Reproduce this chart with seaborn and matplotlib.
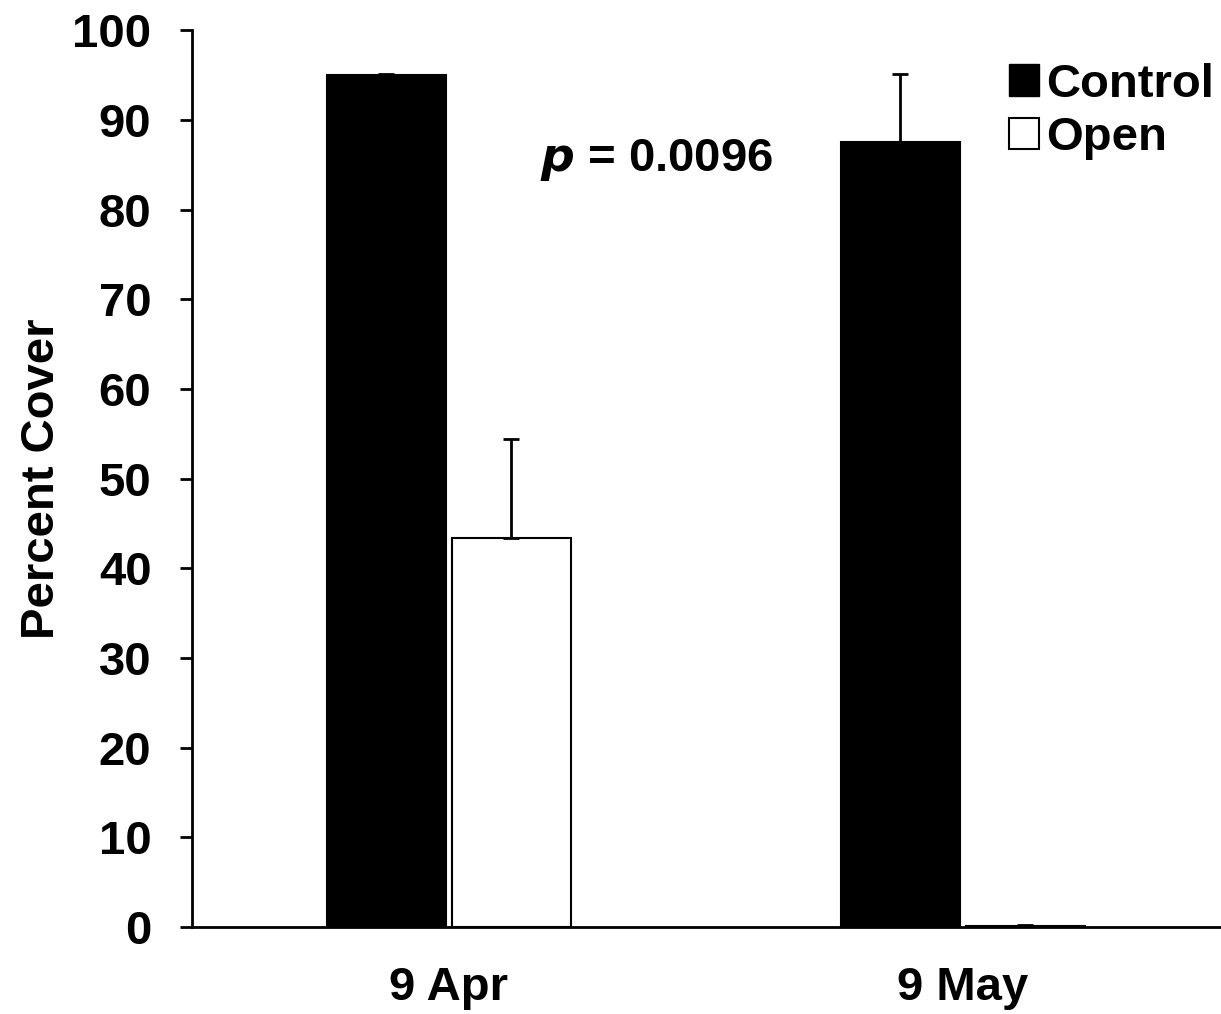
import matplotlib
matplotlib.use('Agg')
import matplotlib.pyplot as plt
import seaborn as sns
import pandas as pd
import numpy as np
from matplotlib.patches import Patch

# data
dates = ['9 Apr', '9 May']
treatments = ['Control', 'Open']
control_mean = [95.0, 87.5]
control_err = [0.1, 7.6]
open_mean = [43.4, 0.15]
open_err = [11.0, 0.1]
y_ticks = list(range(0, 101, 10))

df = pd.DataFrame({
    'date': dates * 2,
    'treatment': [treatments[0]] * 2 + [treatments[1]] * 2,
    'cover': control_mean + open_mean,
    'err': control_err + open_err,
})

sns.set_style('ticks')
plt.rcParams['font.family'] = ['Liberation Sans', 'DejaVu Sans']
plt.rcParams['font.weight'] = 'bold'
for key in ['text.color', 'axes.labelcolor', 'xtick.color', 'ytick.color', 'axes.edgecolor']:
    plt.rcParams[key] = 'black'

FS = 34

fig = plt.figure(figsize=(12.21, 10.14), dpi=100)
ax = fig.add_axes([0.157, 0.0858, 0.842, 0.8842])

sns.barplot(data=df, x='date', y='cover', hue='treatment',
            palette={'Control': 'black', 'Open': 'white'},
            edgecolor='black', linewidth=1.5, width=0.485, gap=0.045,
            errorbar=None, legend=False, ax=ax)

# one-sided (upper) error bars at each bar's centre
for patch, (_, row) in zip(ax.patches, df.iterrows()):
    xc = patch.get_x() + patch.get_width() / 2
    ax.errorbar(xc, row['cover'], yerr=[[0], [row['err']]],
                fmt='none', ecolor='black', elinewidth=2, capsize=6, capthick=2)

ax.set_xlim(-0.5, 1.5)
ax.set_ylim(0, 100)
ax.set_yticks(y_ticks)
ax.tick_params(axis='y', labelsize=FS, width=2, length=9, direction='out', pad=20)
ax.tick_params(axis='x', labelsize=FS, length=0, pad=28)
ax.set_xlabel('')
ax.set_ylabel('Percent Cover', fontsize=FS, fontweight='bold', labelpad=6)
for lab in ax.get_xticklabels() + ax.get_yticklabels():
    lab.set_fontweight('bold')

for side in ['top', 'right']:
    ax.spines[side].set_visible(False)
for side in ['left', 'bottom']:
    ax.spines[side].set_linewidth(2)

ax.text(0.405, 85.5, r'$\bf{\it{p}}$ = 0.0096', fontsize=FS, fontweight='bold',
        ha='center', va='center')

handles = [Patch(facecolor='black', edgecolor='black'),
           Patch(facecolor='white', edgecolor='black', linewidth=1.5)]
ax.legend(handles, treatments, loc='upper right', bbox_to_anchor=(1.013, 0.985),
          frameon=False, handlelength=0.65, handleheight=0.65,
          handletextpad=0.15, labelspacing=0.2, borderaxespad=0.0,
          prop={'weight': 'bold', 'size': FS})

fig.savefig('out.png', dpi=100)
